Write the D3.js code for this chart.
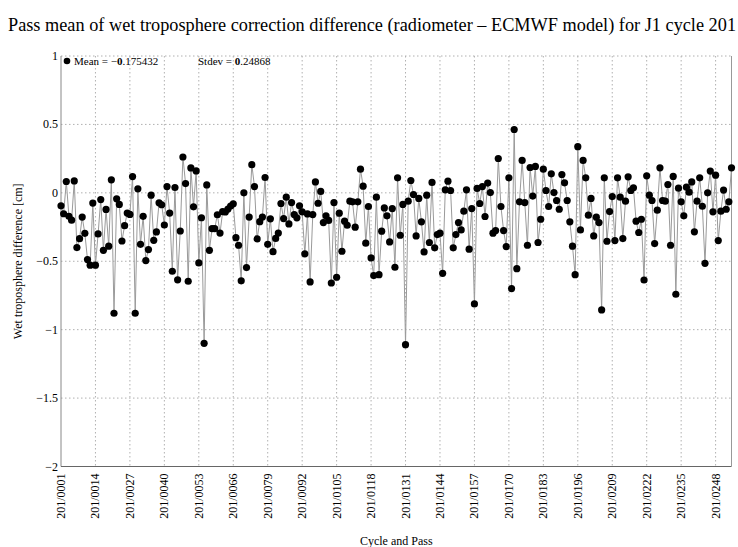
<!DOCTYPE html>
<html>
<head>
<meta charset="utf-8">
<script src="https://cdn.jsdelivr.net/npm/d3@7"></script>
<style>
  body { margin: 0; background: #fff; }
</style>
</head>
<body>
<div id="chart"></div>
<script>
// Pass mean values (cm), one per pass of cycle 201
const cycle = 201;
const passMeans = [
  -0.095, -0.153, 0.083, -0.172, -0.20, 0.087, -0.40, -0.335, -0.177, -0.296,
  -0.488, -0.529, -0.075, -0.529, -0.30, -0.049, -0.42, -0.121, -0.39, 0.095,
  -0.88, -0.044, -0.085, -0.352, -0.24, -0.148, -0.158, 0.119, -0.88, 0.029,
  -0.376, -0.172, -0.495, -0.415, -0.017, -0.347, -0.286, -0.073, -0.087, -0.235,
  0.046, -0.148, -0.573, 0.039, -0.636, -0.279, 0.262, 0.068, -0.646, 0.182,
  -0.102, 0.16, -0.512, -0.182, -1.10, 0.058, -0.42, -0.262, -0.262, -0.16,
  -0.294, -0.138, -0.14, -0.119, -0.097, -0.08, -0.328, -0.383, -0.643, 0.0,
  -0.546, -0.177, 0.206, 0.046, -0.337, -0.211, -0.177, 0.112, -0.376, -0.19,
  -0.43, -0.333, -0.294, -0.078, -0.188, -0.032, -0.227, -0.071, -0.159, -0.183,
  -0.095, -0.139, -0.446, -0.154, -0.651, -0.159, 0.08, -0.076, 0.01, -0.217,
  -0.168, -0.202, -0.659, -0.071, -0.617, -0.149, -0.427, -0.207, -0.237, -0.061,
  -0.066, -0.251, -0.066, 0.173, 0.049, -0.368, -0.1, -0.476, -0.605, -0.032,
  -0.598, -0.28, -0.11, -0.168, -0.359, -0.115, -0.544, 0.11, -0.31, -0.085,
  -1.11, -0.061, 0.09, -0.012, -0.315, -0.041, -0.212, -0.432, -0.017, -0.363,
  0.076, -0.402, -0.305, -0.295, -0.588, 0.022, 0.085, 0.017, -0.402, -0.305,
  -0.217, -0.271, -0.134, 0.022, -0.412, -0.115, -0.812, 0.032, -0.078, 0.046,
  -0.173, 0.071, 0.002, -0.295, -0.276, 0.251, -0.1, -0.276, -0.393, 0.11,
  -0.70, 0.463, -0.554, -0.066, 0.237, -0.071, -0.383, 0.185, -0.024, 0.193,
  -0.363, -0.193, 0.173, 0.017, -0.1, 0.139, 0.002, -0.056, -0.12, 0.134,
  0.073, -0.056, -0.212, -0.39, -0.598, 0.337, -0.271, 0.237, 0.11, -0.163,
  -0.041, -0.315, -0.178, -0.217, -0.856, 0.11, -0.354, -0.137, -0.027, -0.349,
  0.11, -0.032, -0.334, -0.061, 0.117, 0.017, 0.037, -0.207, -0.29, -0.193,
  -0.637, 0.124, -0.017, -0.056, -0.371, -0.127, 0.183, -0.056, -0.061, 0.061,
  -0.383, 0.12, -0.741, 0.034, -0.066, -0.168, 0.041, 0.005, 0.08, -0.285,
  -0.061, 0.11, -0.098, -0.515, 0.0, 0.159, -0.139, 0.129, -0.349, -0.134,
  0.02, -0.12, -0.066, 0.183
];

// x ticks (pass numbers) and y ticks
const xTickPasses = [1, 14, 27, 40, 53, 66, 79, 92, 105, 118, 131, 144, 157, 170, 183, 196, 209, 222, 235, 248];
const yTicks = [1, 0.5, 0, -0.5, -1, -1.5, -2];
const yTickLabels = ["1", "0.5", "0", "\u22120.5", "\u22121", "\u22121.5", "\u22122"];

const statMean = "0.175432";
const statStdev = "0.24868";

const width = 738, height = 547;
const plotLeft = 61, plotRight = 731.5, plotTop = 56, plotBottom = 466.5;
const serif = "'Liberation Serif', 'Times New Roman', Times, 'DejaVu Serif', serif";

const svg = d3.select("#chart").append("svg")
    .attr("width", width)
    .attr("height", height)
    .attr("font-family", serif);

svg.append("rect").attr("width", width).attr("height", height).attr("fill", "#fff");

const x = d3.scaleLinear().domain([1, passMeans.length]).range([plotLeft, plotRight]);
const y = d3.scaleLinear().domain([-2, 1]).range([plotBottom, plotTop]);

// title (sized so it runs to the right edge like the original)
const title = svg.append("text")
    .attr("x", 8)
    .attr("y", 31)
    .style("font-size", "17px")
    .text("Pass mean of wet troposphere correction difference (radiometer \u2013 ECMWF model) for J1 cycle " + cycle);
const tw = title.node().getComputedTextLength();
title.style("font-size", (17 * 728 / tw).toFixed(2) + "px");

// grid
const grid = svg.append("g").attr("stroke", "#b0b0b0").attr("stroke-dasharray", "1.5,2.5");
grid.selectAll(".hg")
    .data(yTicks.filter(d => d > -2))
    .enter().append("line")
    .attr("x1", plotLeft).attr("x2", plotRight)
    .attr("y1", d => y(d)).attr("y2", d => y(d));
grid.selectAll(".vg")
    .data(xTickPasses.slice(1))
    .enter().append("line")
    .attr("x1", d => x(d)).attr("x2", d => x(d))
    .attr("y1", plotTop).attr("y2", plotBottom);

// frame
svg.append("line").attr("x1", plotLeft).attr("x2", plotLeft).attr("y1", plotTop).attr("y2", plotBottom).attr("stroke", "#888");
svg.append("line").attr("x1", plotLeft).attr("x2", plotRight).attr("y1", plotBottom).attr("y2", plotBottom).attr("stroke", "#666");
svg.append("line").attr("x1", plotRight).attr("x2", plotRight).attr("y1", plotTop).attr("y2", plotBottom).attr("stroke", "#999");

// y tick labels
svg.selectAll(".ylab")
    .data(yTicks)
    .enter().append("text")
    .attr("x", plotLeft - 3)
    .attr("y", d => y(d) + 4)
    .attr("text-anchor", "end")
    .style("font-size", "12px")
    .text((d, i) => yTickLabels[i]);

// x tick labels, rotated
svg.selectAll(".xlab")
    .data(xTickPasses)
    .enter().append("text")
    .attr("transform", d => `translate(${x(d) + 4}, ${plotBottom + 7}) rotate(-90)`)
    .attr("text-anchor", "end")
    .style("font-size", "12px")
    .text(d => cycle + "/" + String(d).padStart(4, "0"));

// axis titles
svg.append("text")
    .attr("x", (plotLeft + plotRight) / 2)
    .attr("y", 545)
    .attr("text-anchor", "middle")
    .style("font-size", "12px")
    .text("Cycle and Pass");

svg.append("text")
    .attr("transform", `translate(22, ${(plotTop + plotBottom) / 2}) rotate(-90)`)
    .attr("text-anchor", "middle")
    .style("font-size", "12px")
    .text("Wet troposphere difference [cm]");

// line + points
const line = d3.line()
    .x((d, i) => x(i + 1))
    .y(d => y(d));

svg.append("path")
    .datum(passMeans)
    .attr("fill", "none")
    .attr("stroke", "#9a9a9a")
    .attr("stroke-width", 1)
    .attr("d", line);

svg.selectAll(".pt")
    .data(passMeans)
    .enter().append("circle")
    .attr("cx", (d, i) => x(i + 1))
    .attr("cy", d => y(d))
    .attr("r", 3.6)
    .attr("fill", "#000");

// legend
svg.append("circle").attr("cx", 67).attr("cy", 61).attr("r", 3.3).attr("fill", "#000");
const lg1 = svg.append("text").attr("x", 74).attr("y", 65).style("font-size", "11px");
lg1.append("tspan").text("Mean = \u2212");
lg1.append("tspan").style("font-weight", "bold").text(statMean.slice(0, 1));
lg1.append("tspan").text(statMean.slice(1));
const lg2 = svg.append("text").attr("x", 198).attr("y", 65).style("font-size", "11px");
lg2.append("tspan").text("Stdev = ");
lg2.append("tspan").style("font-weight", "bold").text(statStdev.slice(0, 1));
lg2.append("tspan").text(statStdev.slice(1));
</script>
</body>
</html>
